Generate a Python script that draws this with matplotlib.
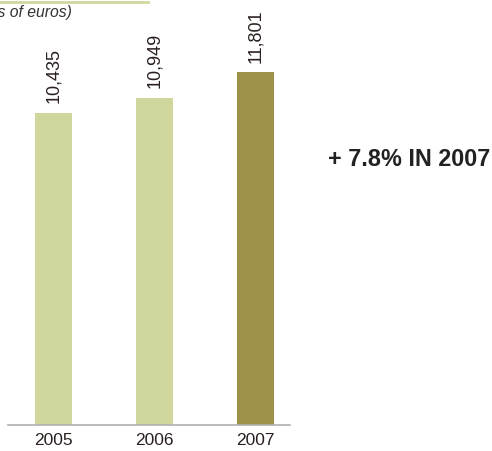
import matplotlib.pyplot as plt
import numpy as np

years = ['2005', '2006', '2007']
revenue = [10435, 10949, 11801]
bar_colors = ['#d1d69c', '#d1d69c', '#9c9146']

plt.rcParams['font.family'] = ['Liberation Sans', 'DejaVu Sans']

fig = plt.figure(figsize=(4.92, 4.51), dpi=100)
ax = fig.add_axes([8 / 492, 26 / 451, 282 / 492, 425 / 451])

x = np.arange(len(years))
bars = ax.bar(x, revenue, width=0.366, color=bar_colors)

for b, v in zip(bars, revenue):
    ax.text(b.get_x() + b.get_width() / 2, v + 320, f'{v:,}',
            rotation=90, ha='center', va='bottom', fontsize=13, color='#2a1f1f')

ax.set_xlim(-0.45, 2.342)
ax.set_ylim(0, 14214)
ax.set_xticks(x)
ax.set_xticklabels(years, fontsize=12.5, color='#2a1f1f')
ax.tick_params(axis='x', length=0, pad=6)
ax.set_yticks([])
for s in ['top', 'right', 'left']:
    ax.spines[s].set_visible(False)
ax.spines['bottom'].set_color('#b0b0b0')
ax.spines['bottom'].set_linewidth(1.2)

# unit caption, partly cut off at the left edge
fig.text(72 / 492, 1 - 17 / 451, '(in millions of euros)', ha='right', va='baseline',
         fontsize=11.3, style='italic', color='#333333')
fig.add_artist(plt.Line2D([0, 148 / 492], [1 - 1.5 / 451] * 2, color='#d1d69c', lw=2))

fig.text(490 / 492, 1 - 160 / 451, '+ 7.8% IN 2007', ha='right', va='center',
         fontsize=16.8, fontweight='bold', color='#222222')

fig.savefig('out.png', dpi=100)
